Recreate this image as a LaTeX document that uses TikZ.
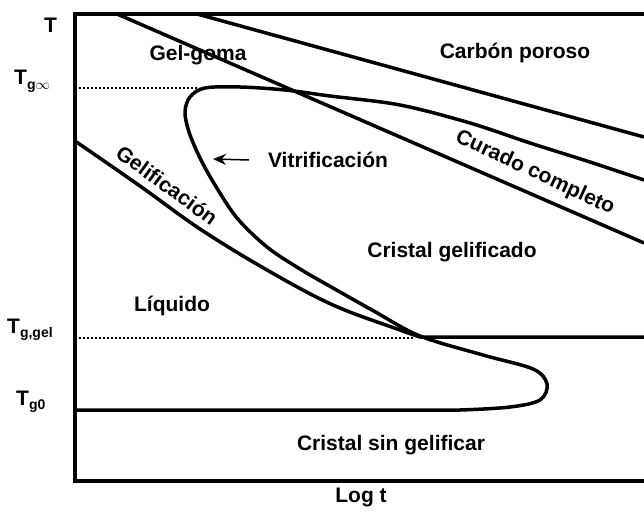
\documentclass[tikz,border=0pt]{standalone}
\usepackage{fontspec}
\setmainfont{Liberation Sans}
\usepackage{tikz}
\usetikzlibrary{arrows.meta}
\tikzstyle{region} = [font=\fontsize{21}{24}\selectfont\bfseries, inner sep=0pt]
\tikzstyle{axislbl} = [font=\fontsize{21}{24}\selectfont\bfseries, inner sep=0pt, anchor=base west]
\tikzstyle{curve} = [line width=3.5pt, line join=round]
\tikzstyle{frame} = [line width=4.5pt]
\tikzstyle{guide} = [line width=1.5pt, dash pattern=on 1.5pt off 2.5pt]
\tikzstyle{arrow} = [line width=1.5pt, -{Stealth[length=13pt, width=11pt]}]
\newcommand{\gsub}[1]{\raisebox{-0.45ex}{\fontsize{14}{14}\selectfont #1}}

\begin{document}
\begin{tikzpicture}[x=1pt, y=-1pt]
\useasboundingbox (0,0) rectangle (644,513);

% Axes
\draw [frame] (644,14) -- (75,14) -- (75,481) -- (644,481);

% Reference temperatures
\draw [guide] (75,88) -- (198,88);
\draw [guide] (75,338) -- (415,338);

% Carbon and full-cure lines
\draw [curve] (197,14) -- (644,137);
\draw [curve] (117,14) -- (644,243);

% Gelification line
\draw [curve] plot[smooth, tension=0.6] coordinates {(75,141) (140,186) (200,229) (267,270) (333,305) (400,330) (420,337)} -- (644,337);

% Vitrification curve
\draw [curve] plot[smooth, tension=0.55] coordinates {(644,180) (590,162) (530,143) (470,123) (400,105) (330,96) (285,90) (240,87) (205,88) (190,97) (185,112) (189,132) (200,158) (215,185) (237,218) (267,247) (300,269) (333,288) (372,310) (420,336) (483,355) (533,369) (547,384) (540,400) (510,407) (460,410) (420,410)} -- (75,410);

% Axis labels
\node (tT) [axislbl] at (44,33) {T};
\node (tginf) [axislbl] at (14,85) {T\gsub{g$\infty$}};
\node (tggel) [axislbl] at (7,333) {T\gsub{g,gel}};
\node (tgzero) [axislbl] at (16,405) {T\gsub{g0}};
\node (logt) [region] at (361,497) {Log t};

% Regions
\node (gelgoma) [region] at (198,55) {Gel-goma};
\node (carbon) [region] at (515,53) {Carbón poroso};
\node (vitri) [region] at (328,160) {Vitrificación};
\node (curado) [region, rotate=-25] at (535,173) {Curado completo};
\node (gelif) [region, rotate=-36] at (167,185) {Gelificación};
\node (crisgel) [region] at (452,252) {Cristal gelificado};
\node (liquido) [region] at (172,306) {Líquido};
\node (crissin) [region] at (391,445) {Cristal sin gelificar};

% Arrow
\coordinate (vitTip) at (213,159);
\draw [arrow] ([xshift=-19pt]vitri.west) -- (vitTip);

\end{tikzpicture}
\end{document}
